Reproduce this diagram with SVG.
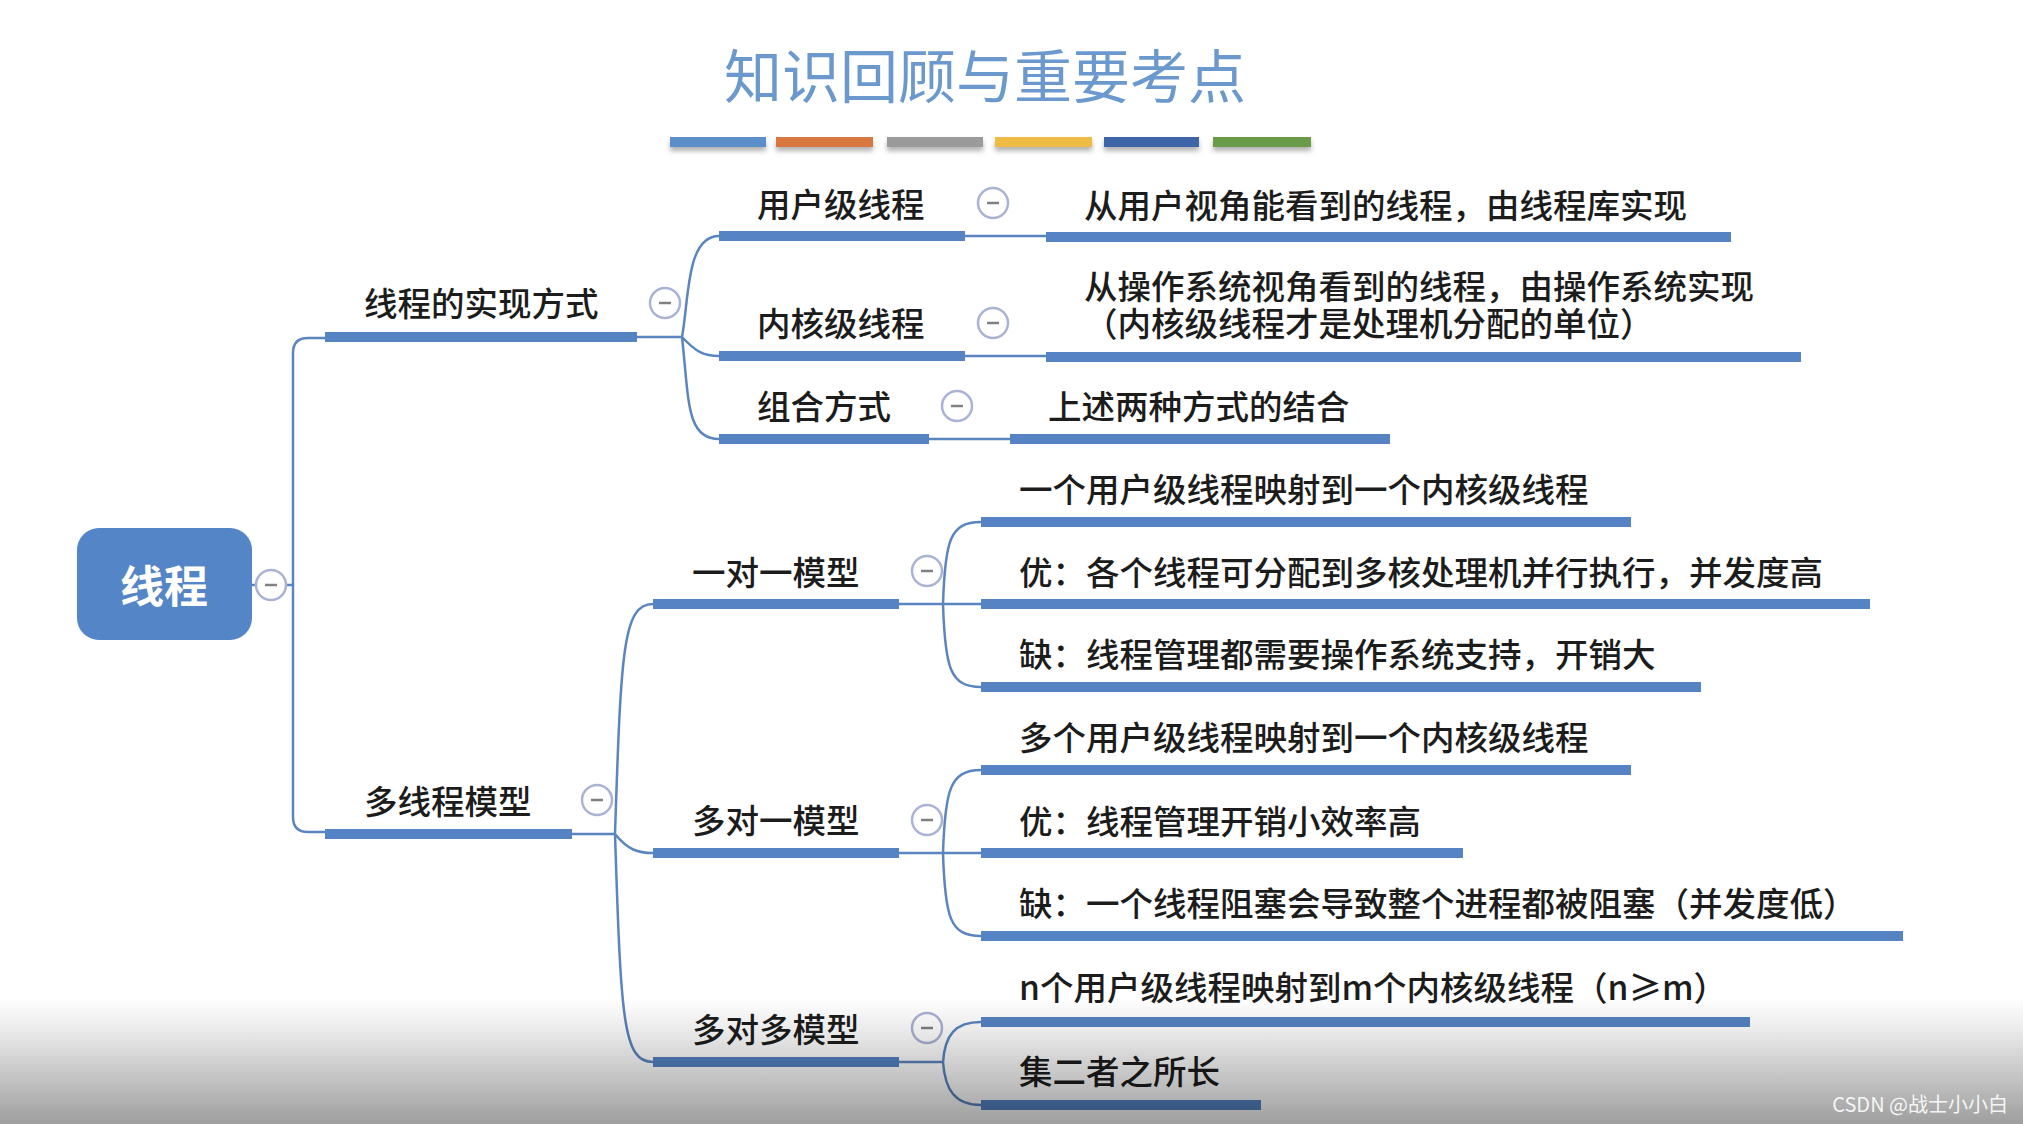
<svg xmlns="http://www.w3.org/2000/svg" width="2023" height="1124" viewBox="0 0 2023 1124">
<defs>
<style>
.t{font-family:"Noto Sans CJK SC","Noto Sans",sans-serif;font-size:33.5px;font-weight:500;fill:#1c1c1c}
.ul{stroke:#5583c3;stroke-width:10;fill:none}
.cn{stroke:#5a85bf;stroke-width:2.5;fill:none}
.cb circle{fill:#fff;stroke:#aab3d6;stroke-width:2.5}
.cb line{stroke:#808080;stroke-width:2.5}
</style>
<filter id="sh" x="-10%" y="-50%" width="120%" height="250%">
<feDropShadow dx="0" dy="4" stdDeviation="2.5" flood-color="#000" flood-opacity="0.3"/>
</filter>
<linearGradient id="fade" x1="0" y1="0" x2="0" y2="1">
<stop offset="0" stop-color="#000" stop-opacity="0"/>
<stop offset="0.25" stop-color="#000" stop-opacity="0.08"/>
<stop offset="1" stop-color="#000" stop-opacity="0.38"/>
</linearGradient>
</defs>
<rect width="2023" height="1124" fill="#fff"/>

<g id="title">
<text x="985" y="98" text-anchor="middle" font-family="Noto Sans CJK SC, sans-serif" font-size="58" fill="#6b99cd">知识回顾与重要考点</text>
<g filter="url(#sh)">
<rect x="670" y="137" width="96" height="10" fill="#5b8ec9"/>
<rect x="776" y="137" width="97" height="10" fill="#d9773f"/>
<rect x="887" y="137" width="96" height="10" fill="#9b9b9b"/>
<rect x="995" y="137" width="97" height="10" fill="#eebb44"/>
<rect x="1104" y="137" width="95" height="10" fill="#3e65a7"/>
<rect x="1213" y="137" width="98" height="10" fill="#6b9b49"/>
</g>
</g>

<g id="connectors">
<path class="cn" d="M252,585 H293 M293,353 Q293,338 308,338 H325 M293,353 V817 Q293,832 308,832 H325"/>
<path class="cn" d="M637,337 H682 M682,337 C689,300 686,236 719,236 M682,337 C696,352 704,356 719,356 M682,337 C689,400 686,439 719,439"/>
<path class="cn" d="M965,236 H1046 M965,356 H1046 M929,439 H1010"/>
<path class="cn" d="M572,834 H615 M615,834 C621,650 623,604 653,604 M615,834 C628,850 638,853 653,853 M615,834 C621,1020 623,1062 653,1062"/>
<path class="cn" d="M899,604 H981 M943,604 C945,540 950,522 981,522 M943,604 C945,668 950,687 981,687"/>
<path class="cn" d="M899,853 H981 M943,853 C945,790 950,770 981,770 M943,853 C945,918 950,936 981,936"/>
<path class="cn" d="M899,1062 H943 M943,1062 C945,1035 955,1022 981,1022 M943,1062 C945,1090 955,1105 981,1105"/>
</g>

<g id="root">
<rect x="77" y="528" width="175" height="112" rx="22" fill="#5485c6"/>
<text x="164" y="603" text-anchor="middle" font-family="Noto Sans CJK SC, sans-serif" font-size="44" font-weight="700" fill="#fff">线程</text>
<g class="cb"><circle cx="271" cy="585" r="15"/><line x1="265" y1="585" x2="277" y2="585"/></g>
</g>

<g id="impl">
<line class="ul" x1="325" y1="337" x2="637" y2="337"/>
<text class="t" x="364" y="316">线程的实现方式</text>
<g class="cb"><circle cx="665" cy="303" r="15"/><line x1="659" y1="303" x2="671" y2="303"/></g>
</g>

<g id="user-thread">
<line class="ul" x1="719" y1="236" x2="965" y2="236"/>
<text class="t" x="757" y="217">用户级线程</text>
<g class="cb"><circle cx="993" cy="203" r="15"/><line x1="987" y1="203" x2="999" y2="203"/></g>
</g>
<g id="user-thread-desc">
<line class="ul" x1="1046" y1="237" x2="1731" y2="237"/>
<text class="t" x="1084" y="218">从用户视角能看到的线程，由线程库实现</text>
</g>

<g id="kernel-thread">
<line class="ul" x1="719" y1="356" x2="965" y2="356"/>
<text class="t" x="757" y="336">内核级线程</text>
<g class="cb"><circle cx="993" cy="323" r="15"/><line x1="987" y1="323" x2="999" y2="323"/></g>
</g>
<g id="kernel-thread-desc">
<line class="ul" x1="1046" y1="357" x2="1801" y2="357"/>
<text class="t"><tspan x="1084" y="299">从操作系统视角看到的线程，由操作系统实现</tspan><tspan x="1084" y="336">（内核级线程才是处理机分配的单位）</tspan></text>
</g>

<g id="combined">
<line class="ul" x1="719" y1="439" x2="929" y2="439"/>
<text class="t" x="757" y="419">组合方式</text>
<g class="cb"><circle cx="957" cy="406" r="15"/><line x1="951" y1="406" x2="963" y2="406"/></g>
</g>
<g id="combined-desc">
<line class="ul" x1="1010" y1="439" x2="1390" y2="439"/>
<text class="t" x="1048" y="419">上述两种方式的结合</text>
</g>

<g id="models">
<line class="ul" x1="325" y1="834" x2="572" y2="834"/>
<text class="t" x="364" y="814">多线程模型</text>
<g class="cb"><circle cx="597" cy="800" r="15"/><line x1="591" y1="800" x2="603" y2="800"/></g>
</g>

<g id="one-to-one">
<line class="ul" x1="653" y1="604" x2="899" y2="604"/>
<text class="t" x="692" y="585">一对一模型</text>
<g class="cb"><circle cx="927" cy="571" r="15"/><line x1="921" y1="571" x2="933" y2="571"/></g>
</g>
<g id="one-to-one-a">
<line class="ul" x1="981" y1="522" x2="1631" y2="522"/>
<text class="t" x="1019" y="502">一个用户级线程映射到一个内核级线程</text>
</g>
<g id="one-to-one-b">
<line class="ul" x1="981" y1="604" x2="1870" y2="604"/>
<text class="t" x="1019" y="585">优：各个线程可分配到多核处理机并行执行，并发度高</text>
</g>
<g id="one-to-one-c">
<line class="ul" x1="981" y1="687" x2="1701" y2="687"/>
<text class="t" x="1019" y="667">缺：线程管理都需要操作系统支持，开销大</text>
</g>

<g id="many-to-one">
<line class="ul" x1="653" y1="853" x2="899" y2="853"/>
<text class="t" x="692" y="833">多对一模型</text>
<g class="cb"><circle cx="927" cy="820" r="15"/><line x1="921" y1="820" x2="933" y2="820"/></g>
</g>
<g id="many-to-one-a">
<line class="ul" x1="981" y1="770" x2="1631" y2="770"/>
<text class="t" x="1019" y="750">多个用户级线程映射到一个内核级线程</text>
</g>
<g id="many-to-one-b">
<line class="ul" x1="981" y1="853" x2="1463" y2="853"/>
<text class="t" x="1019" y="834">优：线程管理开销小效率高</text>
</g>
<g id="many-to-one-c">
<line class="ul" x1="981" y1="936" x2="1903" y2="936"/>
<text class="t" x="1019" y="916">缺：一个线程阻塞会导致整个进程都被阻塞（并发度低）</text>
</g>

<g id="many-to-many">
<line class="ul" x1="653" y1="1062" x2="899" y2="1062"/>
<text class="t" x="692" y="1042">多对多模型</text>
<g class="cb"><circle cx="927" cy="1028" r="15"/><line x1="921" y1="1028" x2="933" y2="1028"/></g>
</g>
<g id="many-to-many-a">
<line class="ul" x1="981" y1="1022" x2="1750" y2="1022"/>
<text class="t" x="1019" y="1000">n个用户级线程映射到m个内核级线程（n≥m）</text>
</g>
<g id="many-to-many-b">
<line class="ul" x1="981" y1="1105" x2="1261" y2="1105"/>
<text class="t" x="1019" y="1084">集二者之所长</text>
</g>

<rect x="0" y="998" width="2023" height="126" fill="url(#fade)"/>
<text x="2008" y="1112" text-anchor="end" font-family="Noto Sans CJK SC, sans-serif" font-size="20" fill="#fff" fill-opacity="0.9">CSDN @战士小小白</text>
</svg>
